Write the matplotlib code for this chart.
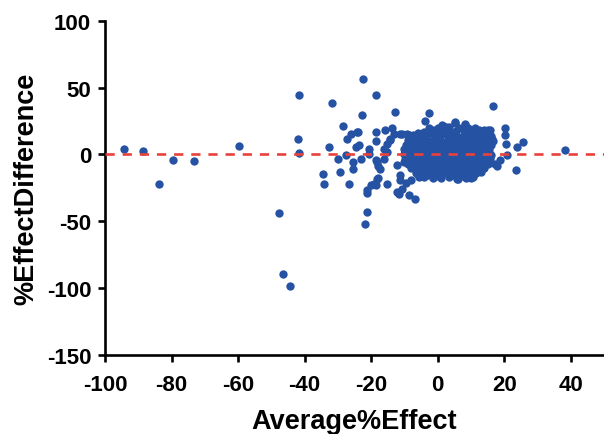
"""
plot.py
Bland-Altman style scatter: % effect difference vs. average % effect.
"""

import numpy as np
import matplotlib
matplotlib.use('Agg')
import matplotlib.pyplot as plt

# ── Data ──────────────────────────────────────────────────────────────────────

# isolated points far to the left / far out
outlier_x = [-94.2, -88.5, -83.7, -79.5, -73.3, -59.8,
             -41.8, -42.0, -41.8, -47.8, -46.5, -44.3, 38.2]
outlier_y = [3.7, 2.2, -21.9, -4.5, -4.7, 6.3,
             44.7, 11.2, 1.0, -43.6, -89.3, -98.8, 3.5]

# scattered points surrounding the main cluster
spread_x = [-31.7, -32.6, -34.6, -34.1, -30.0, -29.4, -28.5, -27.3, -27.5, -26.6,
            -26.1, -25.6, -25.4, -24.6, -24.2, -23.9, -23.7, -23.1, -22.4, -22.7,
            -22.0, -21.3, -21.3, -21.2, -20.7, -20.7, -20.1, -19.2, -18.7, -18.7,
            -18.6, -18.6, -18.2, -18.2, -18.0, -17.9, -17.2, -16.2, -16.2, -15.9,
            -15.2, -15.2, -14.2, -14.2, -13.7, -13.2, -12.8, -12.2, -12.2, -11.7,
            -11.4, -11.2, -11.2, -10.7, -10.7, -10.2, -9.5, -9.2, -8.7, -8.7,
            -7.9, -6.9, -5.7, -5.5, -3.7, -2.5, 1.3, 5.1, 8.3, 5.8,
            10.0, 15.0, 16.3, 16.6, 17.3, 17.8, 18.8, 20.3, 20.3, 20.6,
            20.8, 23.4, 23.7, 25.5, -18.7, -15.2]
spread_y = [38.7, 5.2, -15.0, -22.2, -3.7, -13.2, 21.2, 11.2, -0.2, -21.9,
            15.5, -5.7, -10.7, 5.5, 16.8, 16.8, 6.7, -3.2, 56.5, 29.2,
            -52.4, -28.9, -43.1, -26.9, 4.3, 0.5, -22.7, -21.9, -22.7, 44.2,
            16.8, 9.7, -5.7, -18.2, -8.7, -17.7, -10.7, 4.3, -3.2, 18.0,
            8.0, 1.8, 10.5, 11.8, 19.8, 15.5, 31.7, -8.2, -28.1, -29.4,
            -15.7, -19.5, 15.5, 15.5, -25.7, -5.7, -21.4, 15.5, 14.2, -30.7,
            -18.9, -33.7, -16.9, -16.4, 24.7, 31.0, 21.7, 24.2, 23.0, -18.2,
            -17.4, 18.0, 11.8, 35.9, -7.0, -8.7, -4.5, 20.0, 14.2, 8.0,
            -0.2, -12.0, 5.5, 9.3, -4.0, -21.9]

# dense core of the cluster
core_x = [1.5, 5.2, 8.3, 11.3, 15.8, 3.5,
          -4.0, -1.5, 0.8, 3.0, 5.5, 7.8, 10.0, 12.5, 14.5,
          -7.5, -5.5, -3.5, -1.2, 1.0, 3.2, 5.4, 7.6, 9.8, 12.0, 14.2, 16.0,
          -9.0, -7.0, -5.0, -3.0, -1.0, 1.0, 3.0, 5.0, 7.0, 9.0, 11.0, 13.0, 15.0, 16.5,
          -9.5, -8.0, -6.0, -4.0, -2.0, 0.0, 2.0, 4.0, 6.0, 8.0, 10.0, 12.0, 14.0, 16.0,
          -10.0, -8.5, -6.5, -4.5, -2.5, -0.5, 1.5, 3.5, 5.5, 7.5, 9.5, 11.5, 13.5, 15.5,
          -10.2, -8.0, -6.0, -4.0, -2.0, 0.0, 2.0, 4.0, 6.0, 8.0, 10.0, 12.0, 14.0, 16.0,
          -9.8, -8.0, -6.0, -4.0, -2.0, 0.0, 2.0, 4.0, 6.0, 8.0, 10.0, 12.0, 14.0, 15.8,
          -9.0, -7.0, -5.0, -3.0, -1.0, 1.0, 3.0, 5.0, 7.0, 9.0, 11.0, 13.0, 15.0,
          -8.0, -6.0, -4.0, -2.0, 0.0, 2.0, 4.0, 6.0, 8.0, 10.0, 12.0, 14.0,
          -6.5, -4.5, -2.5, -0.5, 1.5, 3.5, 5.5, 7.5, 9.5, 11.5, 13.0,
          -4.0, -1.5, 1.0, 3.5, 6.0, 8.5, 10.5]
core_y = [21.5, 23.5, 21.8, 19.5, 18.2, 20.5,
          17.0, 18.0, 17.5, 18.5, 17.8, 18.3, 17.5, 17.9, 16.8,
          14.5, 13.5, 14.2, 13.8, 14.5, 13.6, 14.3, 13.9, 14.4, 13.7, 14.1, 13.5,
          10.8, 10.2, 10.9, 10.3, 10.6, 10.1, 10.8, 10.4, 10.7, 10.2, 10.9, 10.3, 10.6, 10.0,
          7.2, 6.8, 7.3, 6.7, 7.1, 6.9, 7.4, 6.8, 7.2, 6.7, 7.3, 6.9, 7.2, 6.8,
          3.8, 3.3, 3.6, 3.2, 3.9, 3.4, 3.7, 3.1, 3.8, 3.3, 3.6, 3.2, 3.9, 3.4,
          0.3, -0.2, 0.4, -0.3, 0.2, -0.4, 0.3, -0.2, 0.5, -0.3, 0.2, -0.1, 0.4, -0.2,
          -3.2, -3.8, -3.3, -3.7, -3.1, -3.9, -3.4, -3.6, -3.2, -3.8, -3.3, -3.7, -3.1, -3.6,
          -7.2, -6.8, -7.3, -6.9, -7.4, -6.8, -7.1, -6.7, -7.3, -6.9, -7.2, -6.8, -7.4,
          -10.3, -10.8, -10.2, -10.7, -10.4, -10.9, -10.3, -10.6, -10.2, -10.8, -10.4, -10.1,
          -13.8, -14.3, -13.7, -14.2, -13.9, -14.4, -13.8, -14.1, -13.7, -14.2, -13.5,
          -16.8, -17.3, -17.6, -17.1, -18.2, -17.4, -16.9]

# extra points filling the gaps between the core rows
fill_x = [-2.5, 0.0, 2.5, 6.5, 9.0, 11.5, 14.0,
          -6.0, -2.0, 2.0, 4.5, 8.5, 11.0, 15.0,
          -8.0, -4.0, 0.0, 4.0, 6.0, 10.0, 14.0,
          -9.0, -5.0, -1.0, 3.0, 7.0, 11.0, 15.0,
          -9.0, -5.5, -1.5, 2.5, 6.5, 10.5, 14.5,
          -9.0, -5.0, -1.0, 3.0, 7.0, 11.0, 15.0,
          -8.5, -4.5, -0.5, 3.5, 7.5, 11.5, 15.0,
          -7.0, -3.0, 1.0, 5.0, 9.0, 13.0,
          -5.0, -1.0, 3.0, 7.0, 11.0, 13.5,
          -3.0, 0.0, 4.5, 7.0, 9.5]
fill_y = [20.0, 19.6, 20.2, 19.8, 20.1, 18.5, 18.0,
          15.9, 16.1, 15.8, 16.2, 15.9, 16.0, 15.6,
          12.3, 12.1, 12.4, 12.0, 12.3, 12.2, 11.9,
          8.7, 8.9, 8.6, 9.0, 8.8, 8.7, 8.5,
          5.2, 5.4, 5.1, 5.3, 5.2, 5.5, 5.1,
          1.7, 1.9, 1.6, 1.8, 2.0, 1.7, 1.9,
          -1.8, -1.6, -2.0, -1.7, -1.9, -1.6, -1.8,
          -5.3, -5.1, -5.5, -5.2, -5.4, -5.0,
          -8.8, -9.0, -8.7, -8.9, -8.6, -8.8,
          -15.6, -15.9, -15.8, -16.0, -15.5]

x_ticks = [-100, -80, -60, -40, -20, 0, 20, 40]
y_ticks = [-150, -100, -50, 0, 50, 100]

avg_effect = np.concatenate([outlier_x, spread_x, core_x, fill_x])
effect_diff = np.concatenate([outlier_y, spread_y, core_y, fill_y])

# ── Plot ──────────────────────────────────────────────────────────────────────

plt.rcParams['font.family'] = ['Liberation Sans', 'DejaVu Sans']
plt.rcParams['axes.unicode_minus'] = False

fig = plt.figure(figsize=(6.04, 4.35), dpi=100)
ax = fig.add_axes([0.174, 0.182, 0.826, 0.768])

ax.scatter(avg_effect, effect_diff, s=36, color='#2552a3', linewidths=0, zorder=2)
ax.axhline(0, color='#e8413c', linewidth=1.9, dashes=(3.5, 3.0), zorder=3)

ax.set_xlim(-100, 50)
ax.set_ylim(-150, 100)
ax.set_xticks(x_ticks)
ax.set_yticks(y_ticks)

for side in ['top', 'right']:
    ax.spines[side].set_visible(False)
for side in ['left', 'bottom']:
    ax.spines[side].set_linewidth(1.9)

ax.tick_params(direction='out', length=5, width=1.9, labelsize=16)
ax.tick_params(axis='x', pad=9)
ax.tick_params(axis='y', pad=5)
for lbl in ax.get_xticklabels() + ax.get_yticklabels():
    lbl.set_fontweight('bold')

ax.set_xlabel('Average%Effect', fontsize=19.5, fontweight='bold', labelpad=9)
ax.set_ylabel('%EffectDifference', fontsize=19.5, fontweight='bold', labelpad=5)

fig.savefig('out.png', dpi=100)
plt.close()
